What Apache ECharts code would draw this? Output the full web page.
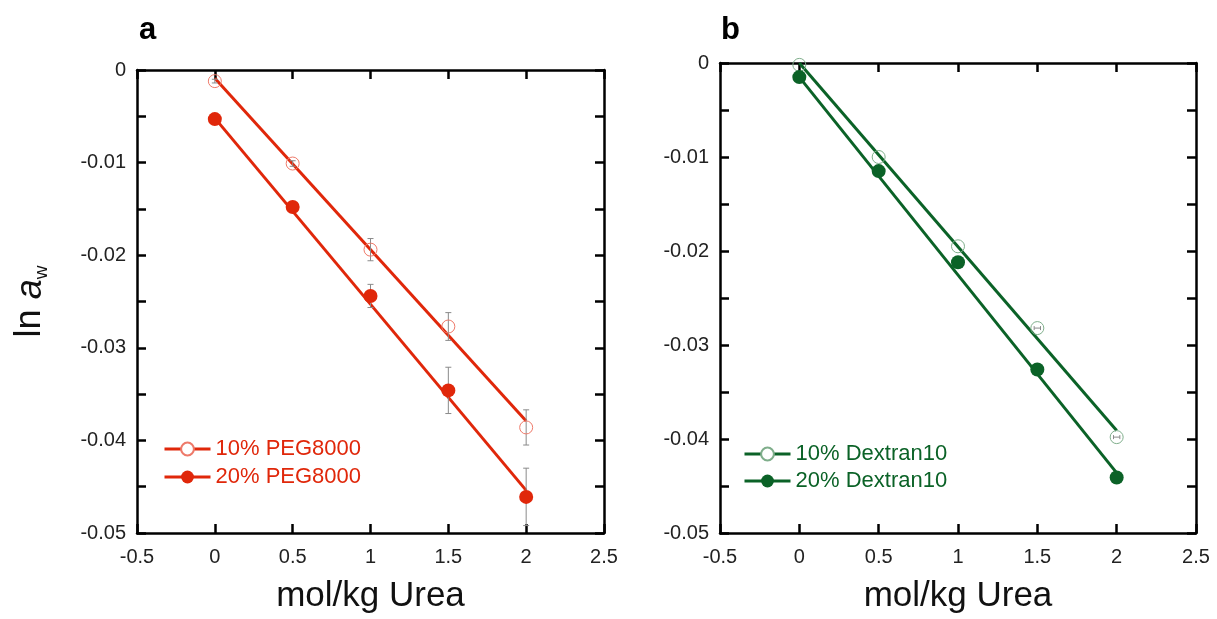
<!DOCTYPE html>
<html><head><meta charset="utf-8">
<script src="https://cdn.jsdelivr.net/npm/echarts@6/dist/echarts.min.js"></script>
<style>html,body{margin:0;padding:0;background:#fff}#c{width:1217px;height:619px}</style>
</head><body><div id="c"></div>
<script>
// ---- data ----
const xVals = [0, 0.5, 1, 1.5, 2];
const fitX = [0, 2];
const xTicks = ['-0.5', '0', '0.5', '1', '1.5', '2', '2.5'];
const yTicks = ['0', '-0.01', '-0.02', '-0.03', '-0.04', '-0.05'];

const peg10 = [-0.0012, -0.0101, -0.0194, -0.0277, -0.0386];
const peg10Err = [0.0002, 0.0003, 0.0012, 0.0015, 0.0019];
const peg20 = [-0.0053, -0.0148, -0.0244, -0.0346, -0.0461];
const peg20Err = [0.0002, 0.0003, 0.00125, 0.0025, 0.0031];
const peg10Fit = [-0.0009, -0.0379];
const peg20Fit = [-0.0052, -0.0454];

const dex10 = [-0.0002, -0.0100, -0.0195, -0.0282, -0.0398];
const dex10XErr = [0, 0, 0, 0.02, 0.02];
const dex20 = [-0.0015, -0.0115, -0.0212, -0.0326, -0.0441];
const dex10Fit = [0.0000, -0.0391];
const dex20Fit = [-0.0015, -0.0436];

const names = ['10% PEG8000', '20% PEG8000', '10% Dextran10', '20% Dextran10'];

// ---- style ----
const RED = '#e0270a';
const RED_LIGHT = '#ee7a6a';
const GREEN = '#0b6227';
const GREEN_LIGHT = '#7fae8b';
const FONT = 'Liberation Sans, Arial, sans-serif';

const chart = echarts.init(document.getElementById('c'));

function zip(xs, ys) { return xs.map((x, i) => [x, ys[i]]); }

function xAxisDef(grid, pos, labels) {
  return {
    type: 'value', gridIndex: grid, position: pos, min: -0.5, max: 2.5, interval: 0.5,
    name: labels ? 'mol/kg Urea' : '', nameLocation: 'middle', nameGap: 46,
    nameTextStyle: { fontSize: 35, color: '#111', fontFamily: FONT },
    axisLine: { show: true, onZero: false, lineStyle: { color: '#000', width: 2.5 } },
    axisTick: { show: true, inside: true, length: 9, lineStyle: { color: '#000', width: 2.5 } },
    axisLabel: { show: labels, fontSize: 20, color: '#222', fontFamily: FONT, margin: 14,
      formatter: v => xTicks[Math.round((v + 0.5) / 0.5)] },
    splitLine: { show: false }
  };
}
function yAxisDef(grid, pos, labels, name) {
  return {
    type: 'value', gridIndex: grid, position: pos, min: -0.05, max: 0, interval: 0.005,
    name: name || '', nameLocation: 'middle', nameGap: 86,
    nameTextStyle: { fontSize: 36, color: '#111', fontFamily: FONT,
      rich: { n: { fontSize: 36, fontFamily: FONT, color: '#111' },
              i: { fontSize: 36, fontStyle: 'italic', fontFamily: FONT, color: '#111' },
              s: { fontSize: 19, fontFamily: FONT, color: '#111', verticalAlign: 'bottom', padding: [22, 0, 0, 0] } } },
    axisLine: { show: true, onZero: false, lineStyle: { color: '#000', width: 2.5 } },
    axisTick: { show: true, inside: true, length: 9, lineStyle: { color: '#000', width: 2.5 } },
    axisLabel: { show: labels, fontSize: 20, color: '#222', fontFamily: FONT, margin: 11,
      formatter: v => { const k = Math.round(-v / 0.005); return k % 2 === 0 ? yTicks[k / 2] : ''; } },
    splitLine: { show: false }
  };
}

function errSeries(xi, yi, xs, ys, yerr, xerr) {
  const data = xs.map((x, i) => [x, ys[i], yerr ? yerr[i] : 0, xerr ? xerr[i] : 0]);
  return {
    type: 'custom', xAxisIndex: xi, yAxisIndex: yi, z: 3, silent: true, clip: false,
    data: data,
    renderItem: (params, api) => {
      const x = api.value(0), y = api.value(1), e = api.value(2), ex = api.value(3);
      const children = [];
      const st = { stroke: '#8a8a8a', lineWidth: 1 };
      if (e > 0) {
        const a = api.coord([x, y + e]), b = api.coord([x, y - e]);
        children.push({ type: 'line', shape: { x1: a[0], y1: a[1], x2: b[0], y2: b[1] }, style: st });
        children.push({ type: 'line', shape: { x1: a[0] - 3, y1: a[1], x2: a[0] + 3, y2: a[1] }, style: st });
        children.push({ type: 'line', shape: { x1: b[0] - 3, y1: b[1], x2: b[0] + 3, y2: b[1] }, style: st });
      }
      if (ex > 0) {
        const a = api.coord([x - ex, y]), b = api.coord([x + ex, y]);
        children.push({ type: 'line', shape: { x1: a[0], y1: a[1], x2: b[0], y2: b[1] }, style: st });
        children.push({ type: 'line', shape: { x1: a[0], y1: a[1] - 2, x2: a[0], y2: a[1] + 2 }, style: st });
        children.push({ type: 'line', shape: { x1: b[0], y1: b[1] - 2, x2: b[0], y2: b[1] + 2 }, style: st });
      }
      return { type: 'group', children };
    }
  };
}

function fitSeries(name, xi, yi, ys, color, open, symColor) {
  return {
    name, type: 'line', xAxisIndex: xi, yAxisIndex: yi, data: zip(fitX, ys),
    symbol: 'circle', symbolSize: 12, showSymbol: false, z: 2, clip: false,
    lineStyle: { color, width: 3 },
    itemStyle: open ? { color: '#fff', borderColor: symColor, borderWidth: 1, opacity: 1 }
                    : { color: symColor, borderColor: symColor, borderWidth: 0, opacity: 1 },
    emphasis: { disabled: true }
  };
}
function ptSeries(xi, yi, ys, open, color) {
  return {
    type: 'scatter', xAxisIndex: xi, yAxisIndex: yi, data: zip(xVals, ys), z: 4, clip: false,
    symbol: 'circle', symbolSize: open ? 13 : 14,
    itemStyle: open ? { color: 'rgba(255,255,255,0)', borderColor: color, borderWidth: 1, opacity: 1 }
                    : { color: color, opacity: 1 },
    emphasis: { disabled: true }
  };
}

const legendCommon = {
  orient: 'vertical', itemWidth: 46, itemHeight: 16, selectedMode: false,
  lineStyle: { width: 3 }
};

const option = {
  animation: false,
  textStyle: { fontFamily: FONT },
  title: [
    { text: 'a', left: 134, top: 10, textStyle: { fontSize: 31, fontWeight: 'bold', color: '#000', fontFamily: FONT } },
    { text: 'b', left: 716, top: 10, textStyle: { fontSize: 31, fontWeight: 'bold', color: '#000', fontFamily: FONT } }
  ],
  grid: [
    { left: 137, top: 70, width: 467, height: 466 },
    { left: 720, top: 63, width: 476, height: 474 }
  ],
  xAxis: [
    xAxisDef(0, 'bottom', true), xAxisDef(0, 'top', false),
    xAxisDef(1, 'bottom', true), xAxisDef(1, 'top', false)
  ],
  yAxis: [
    yAxisDef(0, 'left', true, '{n|ln }{i|a}{s|w}'), yAxisDef(0, 'right', false),
    yAxisDef(1, 'left', true), yAxisDef(1, 'right', false)
  ],
  legend: [
    Object.assign({}, legendCommon, { data: [names[0], names[1]], left: 158, top: 433, itemGap: 6,
      textStyle: { fontSize: 22, color: RED, fontFamily: FONT } }),
    Object.assign({}, legendCommon, { data: [names[2], names[3]], left: 738, top: 438, itemGap: 5,
      textStyle: { fontSize: 22, color: GREEN, fontFamily: FONT } })
  ],
  series: [
    fitSeries(names[0], 0, 0, peg10Fit, RED, true, RED_LIGHT),
    fitSeries(names[1], 0, 0, peg20Fit, RED, false, RED),
    errSeries(0, 0, xVals, peg10, peg10Err),
    errSeries(0, 0, xVals, peg20, peg20Err),
    ptSeries(0, 0, peg10, true, RED_LIGHT),
    ptSeries(0, 0, peg20, false, RED),

    fitSeries(names[2], 2, 2, dex10Fit, GREEN, true, GREEN_LIGHT),
    fitSeries(names[3], 2, 2, dex20Fit, GREEN, false, GREEN),
    ptSeries(2, 2, dex10, true, GREEN_LIGHT),
    ptSeries(2, 2, dex20, false, GREEN),
    errSeries(2, 2, xVals, dex10, null, dex10XErr)
  ]
};
chart.setOption(option);
</script></body></html>
